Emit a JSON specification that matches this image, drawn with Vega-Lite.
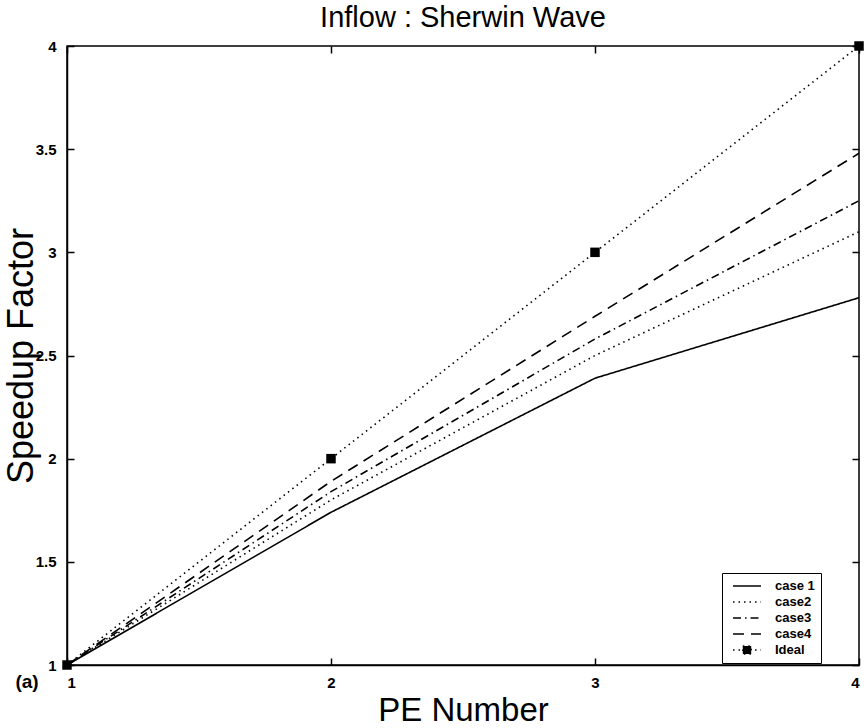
{
  "$schema": "https://vega.github.io/schema/vega-lite/v6.json",
  "width": 792,
  "height": 619,
  "autosize": {"type": "none"},
  "padding": {"left": 67, "top": 46, "right": 5, "bottom": 63},
  "background": "white",
  "title": {"text": "Inflow : Sherwin Wave", "font": "Liberation Sans", "fontSize": 29, "fontWeight": "normal", "color": "black", "offset": 6},
  "config": {
    "view": {"stroke": "black", "strokeWidth": 1.5},
    "font": "Liberation Sans",
    "axis": {"grid": false, "domain": true, "domainColor": "black", "domainWidth": 1.5, "tickColor": "black", "tickWidth": 1.5, "tickSize": -7, "labelColor": "black", "labelFont": "Liberation Sans", "labelFontSize": 15, "labelFontWeight": "bold", "titleColor": "black", "titleFont": "Liberation Sans", "titleFontWeight": "normal"}
  },
  "resolve": {"axis": {"x": "independent", "y": "independent"}},
  "data": {"values": [
    {"pe": 1, "speedup": 1, "series": "case 1"},
    {"pe": 2, "speedup": 1.74, "series": "case 1"},
    {"pe": 3, "speedup": 2.39, "series": "case 1"},
    {"pe": 4, "speedup": 2.78, "series": "case 1"},
    {"pe": 1, "speedup": 1, "series": "case2"},
    {"pe": 2, "speedup": 1.8, "series": "case2"},
    {"pe": 3, "speedup": 2.5, "series": "case2"},
    {"pe": 4, "speedup": 3.1, "series": "case2"},
    {"pe": 1, "speedup": 1, "series": "case3"},
    {"pe": 2, "speedup": 1.84, "series": "case3"},
    {"pe": 3, "speedup": 2.58, "series": "case3"},
    {"pe": 4, "speedup": 3.25, "series": "case3"},
    {"pe": 1, "speedup": 1, "series": "case4"},
    {"pe": 2, "speedup": 1.89, "series": "case4"},
    {"pe": 3, "speedup": 2.69, "series": "case4"},
    {"pe": 4, "speedup": 3.48, "series": "case4"},
    {"pe": 1, "speedup": 1, "series": "Ideal"},
    {"pe": 2, "speedup": 2, "series": "Ideal"},
    {"pe": 3, "speedup": 3, "series": "Ideal"},
    {"pe": 4, "speedup": 4, "series": "Ideal"}
  ]},
  "layer": [
    {
      "mark": {"type": "line", "color": "black", "strokeWidth": 1.6, "clip": true},
      "encoding": {
        "x": {"field": "pe", "type": "quantitative", "scale": {"domain": [1, 4], "nice": false}, "axis": {"values": [1, 2, 3, 4], "format": "d", "title": "PE Number", "titleFontSize": 33, "titlePadding": 4, "labelPadding": 17}},
        "y": {"field": "speedup", "type": "quantitative", "scale": {"domain": [1, 4], "nice": false, "zero": false}, "axis": {"values": [1, 1.5, 2, 2.5, 3, 3.5, 4], "format": "~g", "title": "Speedup Factor", "titleFontSize": 36, "titleX": -46, "titleBaseline": "middle", "labelPadding": 18}},
        "strokeDash": {"field": "series", "type": "nominal", "scale": {"domain": ["case 1", "case2", "case3", "case4", "Ideal"], "range": [[1, 0], [1.5, 4], [8, 4, 1.5, 4], [11, 7], [1.5, 4]]},
          "legend": {"title": null, "orient": "none", "legendX": 655, "legendY": 527, "strokeColor": "black", "fillColor": "white", "padding": 6, "symbolType": "M-0.33,0H4.33", "symbolSize": 144, "symbolStrokeColor": "black", "symbolStrokeWidth": 1.5, "labelFontSize": 13, "labelFontWeight": "bold", "labelColor": "black", "rowPadding": 2, "labelOffset": 33,
            "encode": {"symbols": {"update": {
              "shape": {"signal": "datum.label === 'Ideal' ? 'M-0.33,0H4.33M1.3,-0.65H2.7V0.65H1.3Z' : 'M-0.33,0H4.33'"},
              "fill": {"value": "black"},
              "stroke": {"value": "black"},
              "strokeWidth": {"value": 1.5},
              "strokeDash": {"scale": "strokeDash", "field": "value"},
              "opacity": {"value": 1}
            }}}}}
      }
    },
    {
      "transform": [{"filter": "datum.series === 'Ideal'"}],
      "mark": {"type": "square", "color": "black", "filled": true, "opacity": 1, "size": 90, "clip": false},
      "encoding": {
        "x": {"field": "pe", "type": "quantitative", "axis": {"orient": "top", "values": [1, 2, 3, 4], "labels": false, "title": null, "domain": false}},
        "y": {"field": "speedup", "type": "quantitative", "axis": {"orient": "right", "values": [1, 1.5, 2, 2.5, 3, 3.5, 4], "labels": false, "title": null, "domain": false}}
      }
    },
    {
      "data": {"values": [{"pe": 1, "speedup": 1, "label": "(a)"}]},
      "mark": {"type": "text", "fontSize": 19, "fontWeight": "bold", "color": "black", "dx": -40, "dy": 17, "align": "center"},
      "encoding": {
        "x": {"field": "pe", "type": "quantitative", "axis": null},
        "y": {"field": "speedup", "type": "quantitative", "axis": null},
        "text": {"field": "label"}
      }
    }
  ]
}
